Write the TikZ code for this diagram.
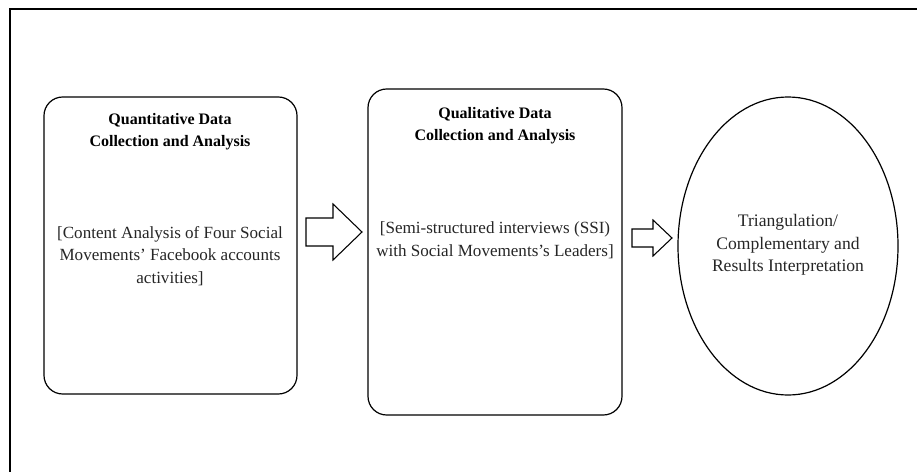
\documentclass[tikz,border=0pt]{standalone}
\usepackage{fontspec}
\setmainfont{Liberation Serif}
\usetikzlibrary{shapes.geometric}
\tikzset{
  frame/.style={line width=1.8pt, line cap=rect},
  sbox/.style={draw, line width=0.9pt, rounded corners=14pt, inner sep=0pt},
  oval/.style={draw, ellipse, line width=0.9pt, inner sep=0pt,
               minimum width=165pt, minimum height=223.5pt},
  head/.style={align=center, font=\fontsize{12}{16.5}\selectfont\bfseries},
  body/.style={align=center, text=black!85, font=\fontsize{12.8}{17}\selectfont},
  blk/.style={draw, line width=0.8pt, fill=white, line join=miter},
}

\begin{document}
\begin{tikzpicture}[x=0.75pt, y=-0.75pt]
\useasboundingbox (0,0) rectangle (917,471);

% outer frame (cut at right and bottom)
\draw[frame] (930,9) -| (10,480);

\node[sbox, minimum width=189.75pt, minimum height=222.75pt] (quant) at (170.5,245.5) {};
\node[sbox, minimum width=190.5pt,  minimum height=244.5pt] (qual)  at (495,252) {};
\node[oval] (tri) at (788,246) {};

\node[head] (quanthead) at (170,132) {Quantitative Data\\Collection and Analysis};
\node[body] (quantbody) at (170,256) {[Content Analysis of Four Social\\Movements' Facebook accounts\\activities]};
\node[head] (qualhead)  at (495,126) {Qualitative Data\\Collection and Analysis};
\node[body] (qualbody)  at (495,240) {[Semi-structured interviews (SSI)\\with Social Movements's Leaders]};
\node[body, font=\fontsize{13.2}{17}\selectfont] (tribody) at (788,245)
  {Triangulation/\\Complementary and\\Results Interpretation};

% block arrows
\coordinate (arrA) at (306,232);
\coordinate (arrB) at (632,238);
\draw[blk] (arrA) ++(0,-14) -- ++(27,0) -- ++(0,-14) -- ++(29,28)
  -- ++(-29,28) -- ++(0,-14) -- ++(-27,0) -- cycle;
\draw[blk] (arrB) ++(0,-9) -- ++(21,0) -- ++(0,-9) -- ++(19,18)
  -- ++(-19,18) -- ++(0,-9) -- ++(-21,0) -- cycle;
\end{tikzpicture}
\end{document}
